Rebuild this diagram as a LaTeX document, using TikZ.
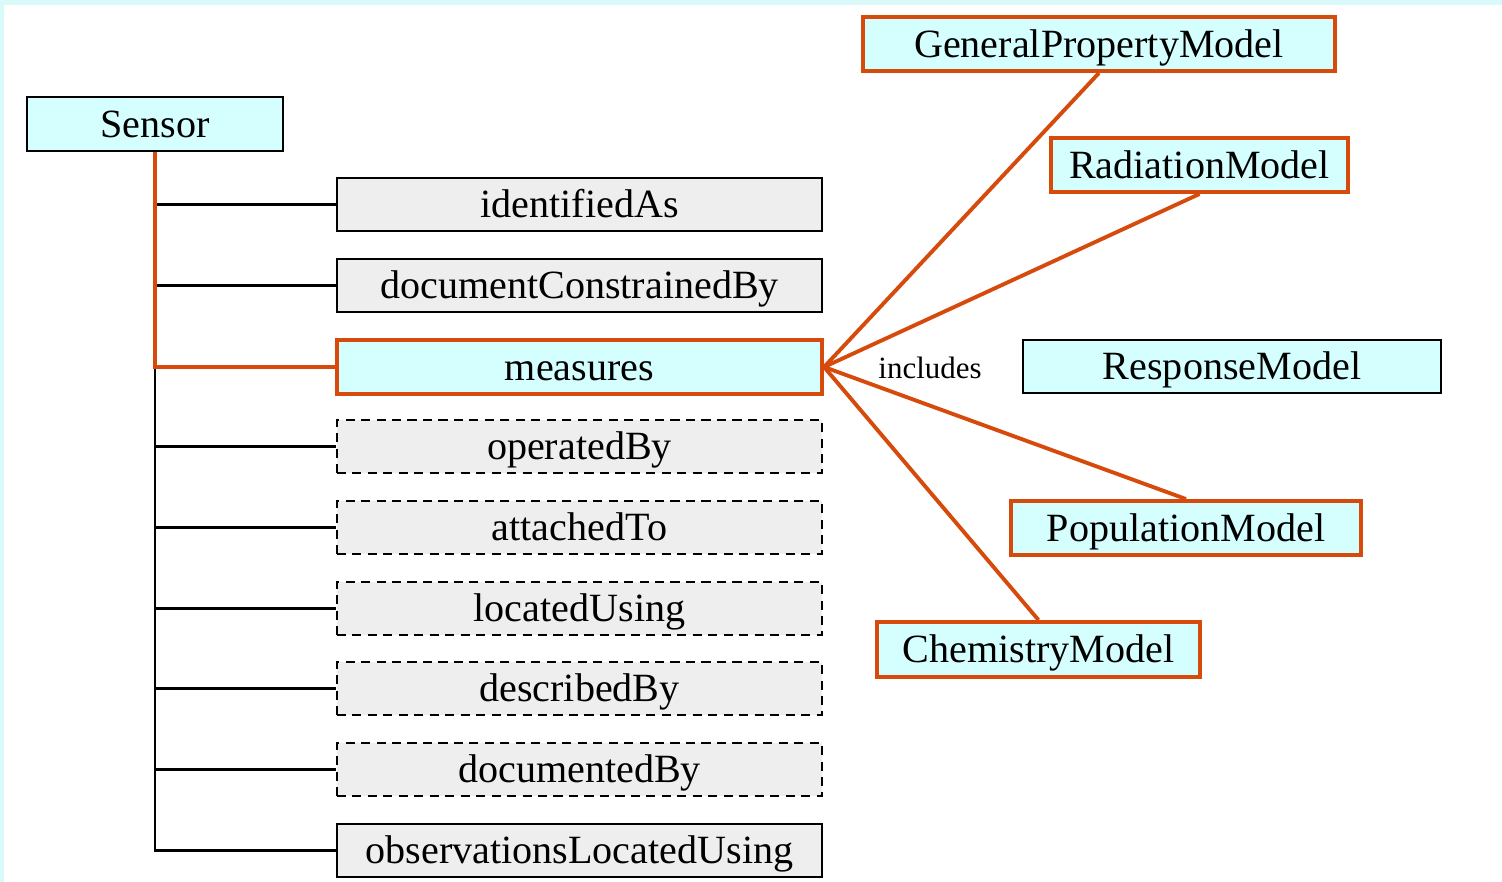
\documentclass[tikz,border=0pt]{standalone}
\usepackage{fontspec}
\setmainfont{Liberation Serif}
\definecolor{rust}{RGB}{214,74,12}
\definecolor{paleCyan}{RGB}{213,255,255}
\definecolor{paleGrey}{RGB}{238,238,238}
\definecolor{frameCyan}{RGB}{218,250,250}
\begin{document}
\begin{tikzpicture}[x=0.01cm, y=-0.01cm,
        box/.style={draw=black, line width=0.6pt, inner sep=0pt, text height=8.4pt, text depth=1pt, font=\fontsize{11.4}{13}\selectfont},
        cls/.style={box, fill=paleCyan, minimum height=0.54cm},
        prop/.style={box, fill=paleGrey, minimum width=4.85cm, minimum height=0.53cm},
        opt/.style={prop, dashed, dash pattern=on 2.6pt off 1.8pt},
        hot/.style={draw=rust, line width=1.1pt},
        link/.style={draw=rust, line width=1.1pt}]
            % frame
            \fill[frameCyan] (0,0) rectangle (1502,882);
            \fill[white] (4,5) rectangle (1502,882);

            \node[cls, minimum width=2.56cm] (S) at (155,124) {Sensor};

            \node[prop] (idA) at (579.5,204.5) {identifiedAs};
            \node[prop] (dcb) at (579.5,285.5) {documentConstrainedBy};
            \node[prop, hot, fill=paleCyan, minimum height=0.54cm] (meas) at (579.5,367) {measures};
            \node[opt] (opb) at (579.5,446.5) {operatedBy};
            \node[opt] (att) at (579.5,527.5) {attachedTo};
            \node[opt] (loc) at (579.5,608.5) {locatedUsing};
            \node[opt] (desc) at (579.5,688.5) {describedBy};
            \node[opt] (docb) at (579.5,769.5) {documentedBy};
            \node[prop] (olu) at (579.5,850.5) {observationsLocatedUsing};

            \node[cls, hot, minimum width=4.72cm] (GPM) at (1099,44) {GeneralPropertyModel};
            \node[cls, hot, minimum width=2.97cm] (RM) at (1199.5,165) {RadiationModel};
            \node[cls, minimum width=4.18cm, minimum height=0.53cm] (RspM) at (1232,366.5) {ResponseModel};
            \node[cls, hot, minimum width=3.50cm] (PM) at (1186,528) {PopulationModel};
            \node[cls, hot, minimum width=3.23cm, minimum height=0.55cm] (CM) at (1038.5,649.5) {ChemistryModel};

            % tree
            \draw[line width=0.6pt] (S.south) |- (olu.west);
            \foreach \p in {idA, dcb, opb, att, loc, desc, docb}
                \draw[line width=0.6pt] (S.south |- \p.west) -- (\p.west);
            \draw[link] (S.south) |- (meas.west);

            % includes
            \draw[link] (meas.east) -- (GPM.south);
            \draw[link] (meas.east) -- (RM.south);
            \draw[link] (meas.east) -- (PM.north);
            \draw[link] (meas.east) -- (CM.north);
            \node[font=\fontsize{8.8}{10}\selectfont] (inc) at (930,368) {includes};
        \end{tikzpicture}
\end{document}
